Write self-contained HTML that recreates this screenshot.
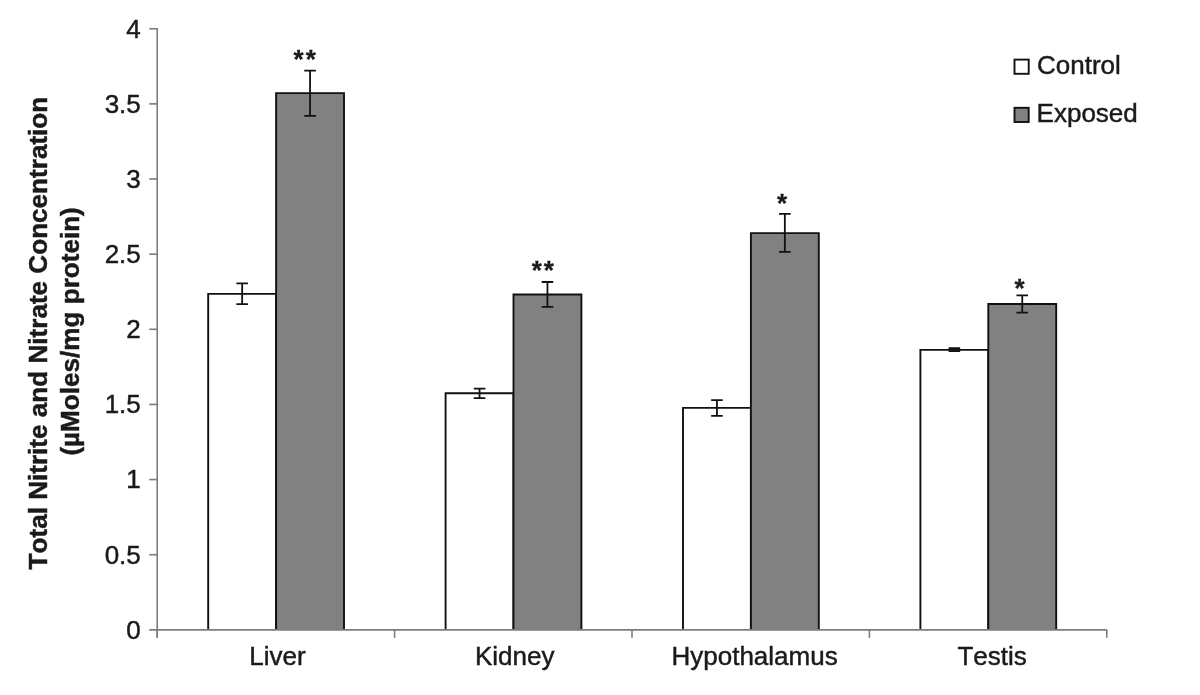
<!DOCTYPE html>
<html><head><meta charset="utf-8"><title>Total Nitrite and Nitrate Concentration</title>
<style>
html,body{margin:0;padding:0;background:#fff;}
body{width:1200px;height:695px;overflow:hidden;font-family:"Liberation Sans",Arial,sans-serif;}
svg{display:block;}
text{font-family:"Liberation Sans",Arial,sans-serif;fill:#1a1a1a;stroke:#1a1a1a;stroke-width:0.45px;font-kerning:none;}
.tick{font-size:26px;text-anchor:end;}
.cat{font-size:26px;text-anchor:middle;}
.leg{font-size:26px;}
.ttl{font-size:26.1px;font-weight:bold;text-anchor:middle;}
.star{font-size:26px;font-weight:bold;letter-spacing:2px;stroke-width:0.3px;}
</style></head><body>
<svg width="1200" height="695" viewBox="0 0 1200 695">
<rect width="1200" height="695" fill="#fff"/>

<path d="M208.20 629.86V293.90H276.10V629.86" fill="#fff" stroke="#111" stroke-width="1.9" stroke-linejoin="miter"/>
<path d="M276.10 629.86V93.10H344.00V629.86" fill="#818181" stroke="#111" stroke-width="1.9" stroke-linejoin="miter"/>
<path d="M242.15 283.30V304.20M236.35 283.30H247.95M236.35 304.20H247.95" stroke="#111" stroke-width="1.8" fill="none"/>
<path d="M310.05 70.60V115.80M304.25 70.60H315.85M304.25 115.80H315.85" stroke="#111" stroke-width="1.8" fill="none"/>
<text class="star" x="293.60" y="68.10">**</text>
<path d="M445.60 629.86V393.20H513.50V629.86" fill="#fff" stroke="#111" stroke-width="1.9" stroke-linejoin="miter"/>
<path d="M513.50 629.86V294.50H581.40V629.86" fill="#818181" stroke="#111" stroke-width="1.9" stroke-linejoin="miter"/>
<path d="M479.55 388.60V398.20M473.75 388.60H485.35M473.75 398.20H485.35" stroke="#111" stroke-width="1.8" fill="none"/>
<path d="M547.45 282.00V306.80M541.65 282.00H553.25M541.65 306.80H553.25" stroke="#111" stroke-width="1.8" fill="none"/>
<text class="star" x="531.70" y="278.80">**</text>
<path d="M683.00 629.86V407.90H750.90V629.86" fill="#fff" stroke="#111" stroke-width="1.9" stroke-linejoin="miter"/>
<path d="M750.90 629.86V233.10H818.80V629.86" fill="#818181" stroke="#111" stroke-width="1.9" stroke-linejoin="miter"/>
<path d="M716.95 400.20V415.90M711.15 400.20H722.75M711.15 415.90H722.75" stroke="#111" stroke-width="1.8" fill="none"/>
<path d="M784.85 213.90V251.80M779.05 213.90H790.65M779.05 251.80H790.65" stroke="#111" stroke-width="1.8" fill="none"/>
<text class="star" x="777.00" y="212.40">*</text>
<path d="M920.40 629.86V349.90H988.30V629.86" fill="#fff" stroke="#111" stroke-width="1.9" stroke-linejoin="miter"/>
<path d="M988.30 629.86V304.00H1056.20V629.86" fill="#818181" stroke="#111" stroke-width="1.9" stroke-linejoin="miter"/>
<path d="M954.35 348.10V351.20M948.55 348.10H960.15M948.55 351.20H960.15" stroke="#111" stroke-width="1.8" fill="none"/>
<path d="M1022.25 295.30V312.70M1016.45 295.30H1028.05M1016.45 312.70H1028.05" stroke="#111" stroke-width="1.8" fill="none"/>
<text class="star" x="1014.50" y="297.10">*</text>
<path d="M157.2 27.94V637.86" stroke="#7d7d7d" stroke-width="1.6" fill="none"/>
<path d="M149.2 629.86H1106.8" stroke="#7d7d7d" stroke-width="1.6" fill="none"/>
<text class="tick" x="140.8" y="638.66">0</text>
<path d="M149.2 554.72H157.2" stroke="#7d7d7d" stroke-width="1.6"/>
<text class="tick" x="140.8" y="563.52">0.5</text>
<path d="M149.2 479.58H157.2" stroke="#7d7d7d" stroke-width="1.6"/>
<text class="tick" x="140.8" y="488.38">1</text>
<path d="M149.2 404.44H157.2" stroke="#7d7d7d" stroke-width="1.6"/>
<text class="tick" x="140.8" y="413.24">1.5</text>
<path d="M149.2 329.30H157.2" stroke="#7d7d7d" stroke-width="1.6"/>
<text class="tick" x="140.8" y="338.10">2</text>
<path d="M149.2 254.16H157.2" stroke="#7d7d7d" stroke-width="1.6"/>
<text class="tick" x="140.8" y="262.96">2.5</text>
<path d="M149.2 179.02H157.2" stroke="#7d7d7d" stroke-width="1.6"/>
<text class="tick" x="140.8" y="187.82">3</text>
<path d="M149.2 103.88H157.2" stroke="#7d7d7d" stroke-width="1.6"/>
<text class="tick" x="140.8" y="112.68">3.5</text>
<path d="M149.2 28.74H157.2" stroke="#7d7d7d" stroke-width="1.6"/>
<text class="tick" x="140.8" y="37.54">4</text>
<path d="M157.20 629.86V637.86" stroke="#7d7d7d" stroke-width="1.6"/>
<path d="M394.60 629.86V637.86" stroke="#7d7d7d" stroke-width="1.6"/>
<path d="M632.00 629.86V637.86" stroke="#7d7d7d" stroke-width="1.6"/>
<path d="M869.40 629.86V637.86" stroke="#7d7d7d" stroke-width="1.6"/>
<path d="M1106.80 629.86V637.86" stroke="#7d7d7d" stroke-width="1.6"/>
<text class="cat" x="277.50" y="665.1">Liver</text>
<text class="cat" x="514.70" y="665.1">Kidney</text>
<text class="cat" x="754.60" y="665.1">Hypothalamus</text>
<text class="cat" x="992.10" y="665.1">Testis</text>
<rect x="1014.5" y="59.6" width="14.2" height="14.2" fill="#fff" stroke="#111" stroke-width="1.9"/>
<rect x="1014.5" y="107.8" width="14.2" height="14.2" fill="#818181" stroke="#111" stroke-width="1.9"/>
<text class="leg" x="1037" y="74">Control</text>
<text class="leg" x="1036.6" y="122">Exposed</text>
<text class="ttl" transform="translate(46.8 333.1) rotate(-90)">Total Nitrite and Nitrate Concentration</text>
<text class="ttl" transform="translate(78.8 331.4) rotate(-90)">(µMoles/mg protein)</text>
</svg></body></html>
